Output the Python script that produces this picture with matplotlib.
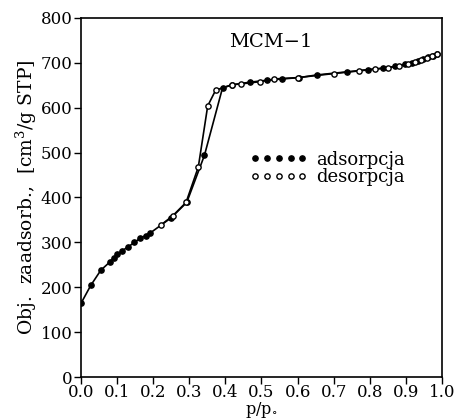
import matplotlib
matplotlib.use("Agg")
import matplotlib.pyplot as plt
from matplotlib.lines import Line2D

plt.rcParams["font.family"] = "DejaVu Serif"
plt.rcParams["mathtext.fontset"] = "dejavuserif"

# isotherm data
ads_x = [0.0, 0.027, 0.055, 0.081, 0.091, 0.101, 0.113, 0.129, 0.148, 0.164,
         0.179, 0.192, 0.25, 0.293, 0.342, 0.392, 0.418, 0.469, 0.514, 0.556,
         0.604, 0.653, 0.738, 0.796, 0.837, 0.870, 0.897, 0.916, 0.934, 0.948,
         0.962, 0.976, 0.985]
ads_y = [164, 204, 238, 257, 266, 273, 281, 289, 300, 309,
         315, 321, 355, 389, 494, 644, 651, 657, 661, 664,
         667, 673, 680, 685, 688, 692, 697, 700, 705, 708,
         712, 716, 720]

des_x = [0.985, 0.972, 0.958, 0.942, 0.925, 0.905, 0.880, 0.850, 0.815, 0.770,
         0.700, 0.600, 0.536, 0.496, 0.443, 0.418, 0.373, 0.351, 0.325, 0.291,
         0.254, 0.222]
des_y = [720, 715, 710, 706, 702, 697, 693, 689, 686, 682,
         676, 667, 664, 658, 653, 651, 639, 604, 468, 389,
         359, 339]

x_ticks = [0.0, 0.1, 0.2, 0.3, 0.4, 0.5, 0.6, 0.7, 0.8, 0.9, 1.0]
y_ticks = [0, 100, 200, 300, 400, 500, 600, 700, 800]

fig = plt.figure(figsize=(4.56, 4.19), dpi=100)
ax = fig.add_axes([0.1776, 0.1002, 0.7917, 0.857])

ax.plot(ads_x, ads_y, color="black", lw=1.2, marker="o", ms=3.8,
        mfc="black", mec="black", zorder=3)
ax.plot(des_x, des_y, color="black", lw=1.2, marker="o", ms=3.8,
        mfc="white", mec="black", mew=1.0, zorder=4)

ax.set_xlim(0, 1.0)
ax.set_ylim(0, 800)
ax.set_xticks(x_ticks)
ax.set_xticklabels([f"{v:.1f}" for v in x_ticks])
ax.set_yticks(y_ticks)
ax.tick_params(direction="out", length=5, width=1.0, labelsize=12, pad=1,
               top=False, right=False)
ax.tick_params(axis="x", pad=0)
for s in ax.spines.values():
    s.set_linewidth(1.2)

ax.set_xlabel(r"p/p$_{\circ}$", fontsize=11.5)
ax.xaxis.set_label_coords(0.5, -0.064)
ax.set_ylabel(r"Obj.  zaadsorb.,  [cm$^3$/g STP]", fontsize=13.5, labelpad=1)

ax.text(0.526, 0.933, "MCM−1", transform=ax.transAxes, fontsize=14,
        ha="center", va="center")

handles = [
    Line2D([], [], ls="none", marker="o", ms=3.8, mfc="black", mec="black"),
    Line2D([], [], ls="none", marker="o", ms=3.8, mfc="white", mec="black"),
]
ax.legend(handles, ["adsorpcja", "desorpcja"], loc="upper left",
          bbox_to_anchor=(0.468, 0.63), frameon=False, numpoints=5,
          handlelength=3.2, handletextpad=0.45, labelspacing=-0.05,
          borderpad=0, borderaxespad=0, fontsize=13)

fig.savefig("out.png", dpi=100)
